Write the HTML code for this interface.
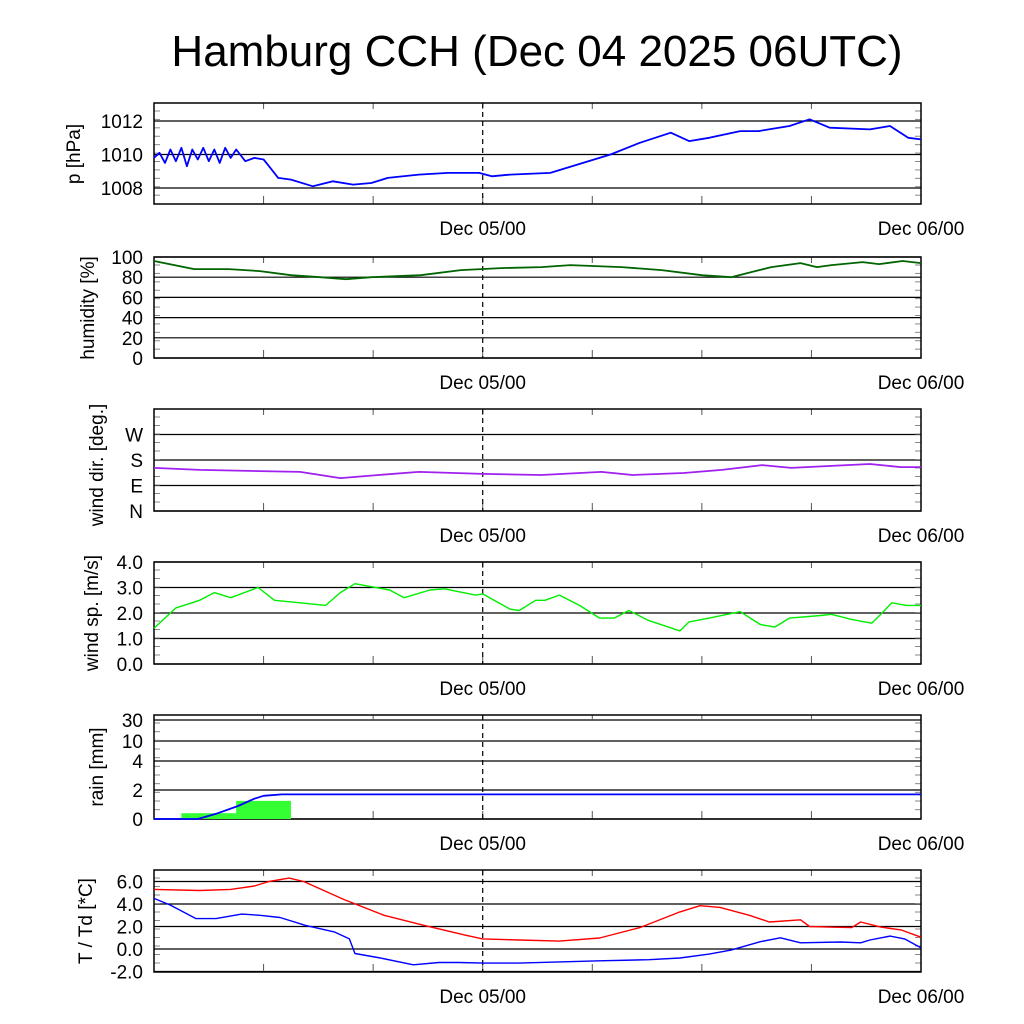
<!DOCTYPE html>
<html><head><meta charset="utf-8"><style>
html,body{margin:0;padding:0;background:#fff}
svg{display:block;font-family:"Liberation Sans",Arial,sans-serif}
</style></head><body>
<svg id="chart" width="1024" height="1024" viewBox="0 0 1024 1024">
<text x="537" y="66" font-size="44" text-anchor="middle">Hamburg CCH (Dec 04 2025 06UTC)</text>
</svg>
<script>
// time in hours since Dec 04 06UTC
const xTickHours = [18, 42];
const xTickLabels = ["Dec 05/00", "Dec 06/00"];
const minorHours = [6, 12, 18, 24, 30, 36];
const pX = [0,0.3,0.6,0.9,1.2,1.5,1.8,2.1,2.4,2.7,3.0,3.3,3.6,3.9,4.2,4.5,5.0,5.5,6.0,6.3,6.8,7.5,8.7,9.8,10.9,11.9,12.8,14.5,16.1,17.8,18.5,19.5,21.7,25.0,26.6,28.3,29.3,30.4,32.1,33.1,34.8,35.9,37.0,39.2,40.3,41.3,42];
const pV = [1009.8,1010.1,1009.5,1010.3,1009.6,1010.4,1009.3,1010.3,1009.7,1010.4,1009.6,1010.3,1009.5,1010.4,1009.8,1010.3,1009.6,1009.8,1009.7,1009.3,1008.6,1008.5,1008.1,1008.4,1008.2,1008.3,1008.6,1008.8,1008.9,1008.9,1008.7,1008.8,1008.9,1010.0,1010.7,1011.3,1010.8,1011.0,1011.4,1011.4,1011.7,1012.1,1011.6,1011.5,1011.7,1011.0,1010.9];
const hX = [0,0.3,2.2,4.1,5.8,7.5,9.1,10.5,11.9,14.6,16.8,19.0,21.2,22.8,25.6,27.8,30.0,31.6,32.7,33.8,35.4,36.3,37.1,38.8,39.7,41.0,42];
const hV = [96,95,88,88,86,82,80,78,80,82,87,89,90,92,90,87,82,80,85,90,94,90,92,95,93,96,94];
const dX = [0,2.5,5.8,8.0,10.2,12.3,14.5,18.0,21.2,24.5,26.2,29.0,31.1,33.3,34.9,37.1,39.2,40.9,42];
const dV = [152,145,141,138,116,127,138,131,127,138,127,134,145,162,152,159,166,155,155];
const sX = [0,1.2,2.5,3.3,4.2,5.7,6.6,8.0,9.4,10.2,11.0,12.9,13.7,15.1,15.9,17.6,18.0,19.5,20.0,20.9,21.4,22.2,23.3,24.4,25.2,26.0,27.1,28.8,29.3,30.4,32.1,33.2,34.0,34.8,36.5,37.1,38.2,39.3,39.8,40.4,41.2,42];
const sV = [1.4,2.2,2.5,2.8,2.6,3.0,2.5,2.4,2.3,2.8,3.15,2.9,2.6,2.9,2.95,2.7,2.75,2.15,2.1,2.5,2.5,2.7,2.3,1.8,1.8,2.1,1.7,1.3,1.65,1.8,2.05,1.55,1.45,1.8,1.9,1.95,1.75,1.6,1.95,2.4,2.3,2.3];
const rainStart = [1.5, 4.5];
const rainAmt = [0.4, 1.25];
const cumX = [0,2.4,3.5,4.6,5.5,6.0,7.0,42];
const cumV = [0,0,0.4,0.9,1.4,1.6,1.7,1.7];
const tX = [0,2.5,4.2,5.5,6.3,7.4,8.2,9.3,10.4,12.6,14.8,17.0,18.0,20.0,22.2,24.4,26.6,28.8,29.9,31.0,32.6,33.7,35.4,35.9,37.0,38.2,38.7,39.8,40.9,42];
const tV = [5.3,5.2,5.3,5.6,6.0,6.3,6.0,5.2,4.4,3.0,2.1,1.25,0.9,0.8,0.7,0.98,1.9,3.3,3.85,3.7,3.0,2.4,2.6,2.0,1.95,1.9,2.4,1.95,1.7,1.05];
const tdX = [0,0.9,2.3,3.4,4.8,5.8,6.9,8.3,9.9,10.7,11.0,12.4,14.2,15.6,16.7,18.0,20.0,22.2,24.4,27.1,28.8,30.4,31.6,33.2,34.3,35.4,37.6,38.7,39.2,40.3,41.1,42];
const tdV = [4.5,3.9,2.7,2.7,3.1,3.0,2.8,2.1,1.5,0.9,-0.4,-0.8,-1.4,-1.2,-1.2,-1.25,-1.25,-1.15,-1.05,-0.95,-0.8,-0.45,-0.1,0.65,1.0,0.55,0.62,0.55,0.8,1.15,0.9,0.1];

const svg = document.getElementById('chart');
const NS = 'http://www.w3.org/2000/svg';
const X0 = 154, X1 = 921;
const xs = h => X0 + h * (X1 - X0) / 42;
function mk(tag, attrs, parent) {
  const e = document.createElementNS(NS, tag);
  for (const k in attrs) e.setAttribute(k, attrs[k]);
  (parent || svg).appendChild(e);
  return e;
}
function panel(name, top, bot, ys, grid, labels, title, titleX, titleY) {
  const g = mk('g', {});
  
  
  grid.forEach((v, i) => {
    const y = ys(v);
    const l = mk('line', {x1: X0, x2: X1, y1: y, y2: y, stroke: '#000', 'stroke-width': 1.2}, g);
    
    
    const t = mk('text', {x: 143, y: y + 7, 'font-size': 19, 'text-anchor': 'end'}, g);
    t.textContent = labels[i];
    
    
  });
  for (let y = top + 8; y < bot - 3; y += (bot - top) / 12) {
    mk('line', {x1: X0, x2: X0 + 6, y1: y, y2: y, stroke: '#888', 'stroke-width': 1}, g);
    mk('line', {x1: X1 - 6, x2: X1, y1: y, y2: y, stroke: '#888', 'stroke-width': 1}, g);
  }
  minorHours.forEach(h => {
    mk('line', {x1: xs(h), x2: xs(h), y1: bot - 8, y2: bot, stroke: '#555', 'stroke-width': 1}, g);
    mk('line', {x1: xs(h), x2: xs(h), y1: top, y2: top + 6, stroke: '#555', 'stroke-width': 1}, g);
  });
  const d = mk('line', {x1: xs(18), x2: xs(18), y1: top, y2: bot, stroke: '#000', 'stroke-width': 1.2, 'stroke-dasharray': '5,4'}, g);
  
  
  const r = mk('rect', {x: X0, y: top, width: X1 - X0, height: bot - top, fill: 'none', stroke: '#000', 'stroke-width': 1.5}, g);
  
  
  xTickHours.forEach((h, i) => {
    const t = mk('text', {x: xs(h), y: bot + 31, 'font-size': 19, 'text-anchor': 'middle'}, g);
    t.textContent = xTickLabels[i];
    
    
  });
  const tt = mk('text', {x: 0, y: 0, 'font-size': 19, 'text-anchor': 'middle', transform: 'translate(' + titleX + ',' + titleY + ') rotate(-90)'}, g);
  tt.textContent = title;
  
  
  return g;
}
function line(name, X, V, ys, color, w) {
  const pts = X.map((h, i) => xs(h).toFixed(1) + ',' + ys(V[i]).toFixed(1)).join(' ');
  const p = mk('polyline', {points: pts, fill: 'none', stroke: color, 'stroke-width': w || 1.6, 'stroke-linejoin': 'round'});
  
  
}
const yp = v => 121 + (1012 - v) * 16.75;
panel('pressure', 103, 204, yp, [1012, 1010, 1008], ['1012', '1010', '1008'], 'p [hPa]', 80, 154);
line('pressure-line', pX, pV, yp, '#0000ff', 1.8);
const yh = v => 358 - v * 1.01;
panel('humidity', 257, 358, yh, [100, 80, 60, 40, 20, 0], ['100', '80', '60', '40', '20', '0'], 'humidity [%]', 94, 308);
line('humidity-line', hX, hV, yh, '#006400', 1.8);
const yd = v => 511 - v * 102 / 360;
panel('wind-dir', 409, 511, yd, [270, 180, 90, 0], ['W', 'S', 'E', 'N'], 'wind dir. [deg.]', 103, 465);
line('wind-dir-line', dX, dV, yd, '#a020f0', 1.8);
const yw = v => 664 - v * 25.5;
panel('wind-speed', 562, 664, yw, [4, 3, 2, 1, 0], ['4.0', '3.0', '2.0', '1.0', '0.0'], 'wind sp. [m/s]', 98, 613);
line('wind-speed-line', sX, sV, yw, '#00ee00', 1.4);
const rv = [0, 2, 4, 10, 30], ry = [819, 790, 761, 741, 720];
const yr = v => { for (let i = 1; i < rv.length; i++) if (v <= rv[i]) return ry[i-1] + (v - rv[i-1]) / (rv[i] - rv[i-1]) * (ry[i] - ry[i-1]); return 715; };
panel('rain', 715, 819, yr, [30, 10, 4, 2, 0], ['30', '10', '4', '2', '0'], 'rain [mm]', 103, 767);
rainStart.forEach((h, i) => {
  const b = mk('rect', {x: xs(h), y: yr(rainAmt[i]), width: xs(h + 3) - xs(h), height: 819 - yr(rainAmt[i]), fill: '#33ff33'});
  
  
});
line('rain-cumulative-line', cumX, cumV, yr, '#0000ff', 1.8);
const yt = v => 949 - v * 11.25;
panel('temperature', 870, 972, yt, [6, 4, 2, 0, -2], ['6.0', '4.0', '2.0', '0.0', '-2.0'], 'T / Td [*C]', 92, 921);
line('temperature-line', tX, tV, yt, '#ff0000', 1.4);
line('dewpoint-line', tdX, tdV, yt, '#0000ff', 1.4);
</script>
</body></html>
